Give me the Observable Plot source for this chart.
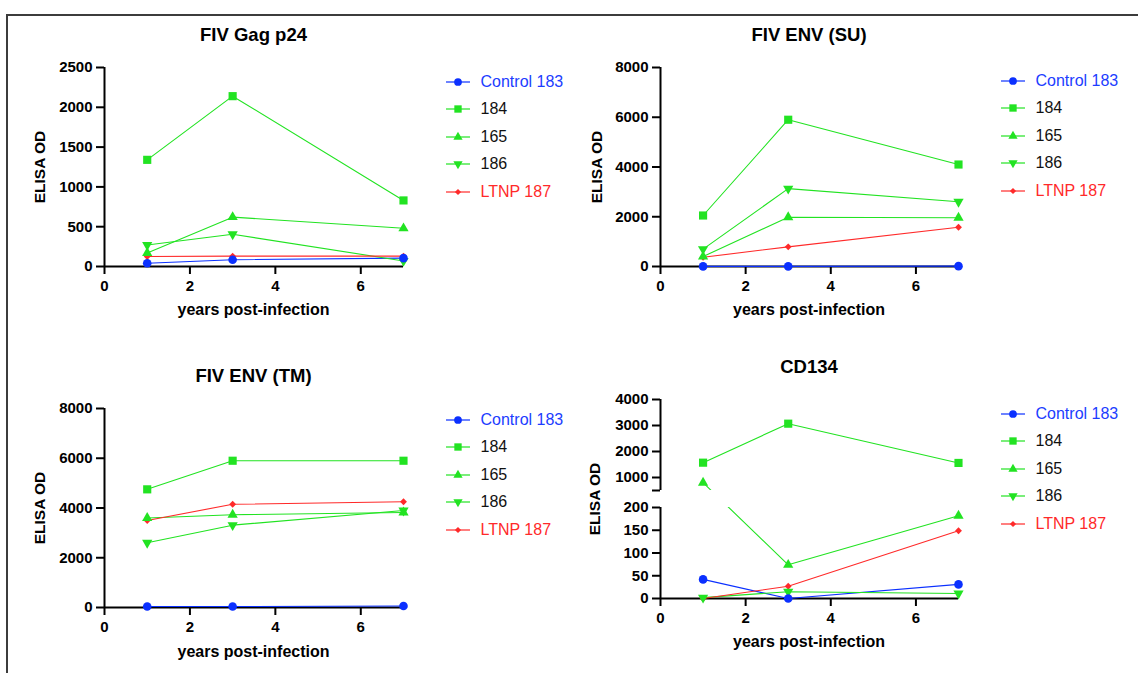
<!DOCTYPE html>
<html>
<head>
<meta charset="utf-8">
<script src="https://cdn.jsdelivr.net/npm/d3@7"></script>
<script src="https://cdn.jsdelivr.net/npm/@observablehq/plot@0.6"></script>
<style>
  html, body { margin: 0; padding: 0; background: #fff; }
  #page { position: relative; width: 1138px; height: 673px; overflow: hidden; background: #fff;
          font-family: "Liberation Sans", Arial, Helvetica, sans-serif; }
  #frame { position: absolute; left: 6px; top: 14px; right: -20px; bottom: -20px;
           border-top: 2px solid #3c3c3c; border-left: 2px solid #3c3c3c; }
  .txt { position: absolute; white-space: nowrap; line-height: 1; font-weight: bold; color: #000; }
  .legend { position: absolute; font-size: 16px; }
  .legend .row { display: flex; align-items: center; height: 27.5px; }
  .legend svg { display: block; overflow: visible; }
  .legend span { margin-left: 10.5px; }
  .plotbox { position: absolute; }
</style>
</head>
<body>
<div id="page"><div id="frame"></div></div>
<script>
// ---------- data ----------
const years = [1, 3, 7];
const seriesNames = ["Control 183", "184", "165", "186", "LTNP 187"];
const seriesColors = ["#0b30ff", "#22e322", "#22e322", "#22e322", "#ff2a2a"];
const labelColors = ["#1c3dff", "#111111", "#111111", "#111111", "#ff2a2a"];
const seriesSymbols = ["circle", "square", "triangle", "triangle", "diamond2"];
const symbolRotate = [0, 0, 0, 180, 0];

// values per series (Control 183, 184, 165, 186, LTNP 187) at years 1, 3, 7
const gagP24 = [[40, 85, 105], [1340, 2140, 830], [170, 620, 480], [270, 405, 70], [125, 130, 130]];
const envSU  = [[5, 5, 15], [2050, 5900, 4100], [400, 1980, 1960], [700, 3130, 2600], [370, 790, 1580]];
const envTM  = [[40, 40, 60], [4750, 5900, 5900], [3600, 3730, 3820], [2600, 3310, 3900], [3500, 4150, 4250]];
const cd134  = [[42, 0, 31], [1570, 3070, 1560], [800, 74, 182], [2, 15, 11], [0, 27, 149]];

const titles = ["FIV Gag p24", "FIV ENV (SU)", "FIV ENV (TM)", "CD134"];
const xLabel = "years post-infection";
const yLabel = "ELISA OD";
const xTicks = [0, 2, 4, 6];
const xDomain = [0, 7];
const yTicksGag = [0, 500, 1000, 1500, 2000, 2500];
const yTicksEnv = [0, 2000, 4000, 6000, 8000];
const yTicksCD = [0, 50, 100, 150, 200, 500, 1000, 2000, 3000, 4000];
const cdBreak = [200, 500];     // axis break (gap between segments)
const cdDomain = [0, 4000];

// ---------- layout ----------
const panels = [
  {data: gagP24, title: titles[0], left: 0, top: 0, width: 569, height: 336, mL: 104, mR: 166, mT: 67, mB: 70,
   yDomain: [0, 2500], yTicks: yTicksGag, titleY: 35, xLabelY: 310, yLabelX: 40, legendX: 458, legendY: 81.5},
  {data: envSU, title: titles[1], left: 569, top: 0, width: 569, height: 336, mL: 91, mR: 180, mT: 67, mB: 70,
   yDomain: [0, 8000], yTicks: yTicksEnv, titleY: 35, xLabelY: 310, yLabelX: 597, legendX: 1013, legendY: 80.5},
  {data: envTM, title: titles[2], left: 0, top: 336, width: 569, height: 337, mL: 104, mR: 166, mT: 72, mB: 66,
   yDomain: [0, 8000], yTicks: yTicksEnv, titleY: 376, xLabelY: 651.5, yLabelX: 40, legendX: 458, legendY: 419.5},
  {data: cd134, title: titles[3], left: 569, top: 336, width: 569, height: 337, mL: 91, mR: 180, mT: 63, mB: 75,
   broken: true, yTicks: yTicksCD, titleY: 367, xLabelY: 641.5, yLabelX: 595, legendX: 1013, legendY: 413.5}
];

const page = document.getElementById("page");
const FONT = "'Liberation Sans', Arial, Helvetica, sans-serif";

function addText(txt, cx, cy, size, rot) {
  const d = document.createElement("div");
  d.className = "txt";
  d.textContent = txt;
  d.style.left = cx + "px";
  d.style.top = cy + "px";
  d.style.fontSize = size + "px";
  d.style.transform = `translate(-50%,-50%) rotate(${rot || 0}deg)`;
  page.append(d);
}

function symbolPath(s, size) {
  const type = {circle: d3.symbolCircle, square: d3.symbolSquare, triangle: d3.symbolTriangle, diamond2: d3.symbolDiamond2}[seriesSymbols[s]];
  return d3.symbol(type, size)();
}

const rVal = {circle: 4.3, square: 4.6, triangle: 3.8, diamond2: 3.1};

panels.forEach(p => {
  const rows = [];
  p.data.forEach((vals, s) => vals.forEach((v, i) => rows.push({series: s, year: years[i], value: v})));

  const plotH = p.height - p.mB;
  let yScale;
  if (p.broken) {
    const bottom = plotH, top = p.mT;
    const seg = (bottom - top - 17) / 2;
    yScale = {type: "linear", domain: [cdDomain[0], cdBreak[0], cdBreak[1], cdDomain[1]],
              range: [bottom, bottom - seg, top + seg, top]};
  } else {
    yScale = {type: "linear", domain: p.yDomain};
  }

  const yAxisSegs = p.broken
    ? [{y1: cdDomain[0], y2: cdBreak[0]}, {y1: cdBreak[1], y2: cdDomain[1]}]
    : [{y1: p.yDomain[0], y2: p.yDomain[1]}];

  const marks = [
    Plot.axisY({ticks: p.yTicks, tickSize: 8, tickPadding: 4, strokeWidth: 2, label: null,
                tickFormat: d => (p.broken && d === cdBreak[1]) ? "" : String(d)}),
    Plot.axisX({ticks: xTicks, tickSize: 8, tickPadding: 6, strokeWidth: 2, label: null, tickFormat: d => String(d)}),
    Plot.ruleX(yAxisSegs, {x: () => xDomain[0], y1: "y1", y2: "y2", stroke: "#000", strokeWidth: 2}),
    Plot.ruleY([{y: 0}], {y: "y", x1: () => xDomain[0], x2: () => xDomain[1], stroke: "#000", strokeWidth: 2}),
    Plot.line(rows, {x: "year", y: "value", z: "series", stroke: d => seriesColors[d.series], strokeWidth: 1.1})
  ];
  if (p.broken) {
    marks.push(Plot.rect([cdBreak], {x1: () => xDomain[0] + 0.05, x2: () => xDomain[1] + 0.2,
                                     y1: d => d[0], y2: d => d[1], fill: "#fff"}));
  }
  [4, 3, 2, 1, 0].forEach(s => {
    marks.push(Plot.dot(rows.filter(d => d.series === s), {
      x: "year", y: "value", symbol: seriesSymbols[s], r: rVal[seriesSymbols[s]],
      fill: seriesColors[s], stroke: "none", rotate: symbolRotate[s]
    }));
  });

  const chart = Plot.plot({
    width: p.width, height: p.height,
    marginLeft: p.mL, marginRight: p.mR, marginTop: p.mT, marginBottom: p.mB,
    x: {type: "linear", domain: xDomain},
    y: yScale,
    color: {type: "identity"},
    style: {fontFamily: FONT, fontSize: "15px", fontWeight: "bold", color: "#000", background: "transparent", overflow: "visible"},
    marks
  });
  const box = document.createElement("div");
  box.className = "plotbox";
  box.style.left = p.left + "px";
  box.style.top = p.top + "px";
  box.append(chart);
  page.append(box);

  const cx = p.left + p.mL + (p.width - p.mL - p.mR) / 2;
  const cy = p.top + p.mT + (plotH - p.mT) / 2;
  addText(p.title, cx, p.titleY, 18.5);
  addText(xLabel, cx, p.xLabelY, 16);
  addText(yLabel, p.yLabelX, cy, 15.5, -90);

  // legend
  const lg = document.createElement("div");
  lg.className = "legend";
  lg.style.left = (p.legendX - 12) + "px";
  lg.style.top = (p.legendY - 13.75) + "px";
  seriesNames.forEach((name, s) => {
    const row = document.createElement("div");
    row.className = "row";
    const svg = d3.create("svg").attr("width", 24).attr("height", 14);
    svg.append("line").attr("x1", 0).attr("x2", 24).attr("y1", 7).attr("y2", 7)
      .attr("stroke", seriesColors[s]).attr("stroke-width", 1.2);
    const rr = rVal[seriesSymbols[s]] * 0.9;
    svg.append("path").attr("d", symbolPath(s, Math.PI * rr * rr))
      .attr("transform", `translate(12,7) rotate(${symbolRotate[s]})`).attr("fill", seriesColors[s]);
    row.append(svg.node());
    const t = document.createElement("span");
    t.textContent = name;
    t.style.color = labelColors[s];
    row.append(t);
    lg.append(row);
  });
  page.append(lg);
});
</script>
</body>
</html>
